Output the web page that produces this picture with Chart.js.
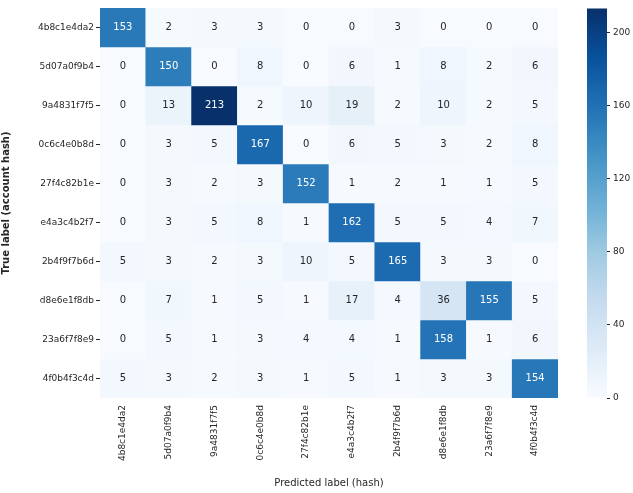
<!DOCTYPE html>
<html>
<head>
<meta charset="utf-8">
<script src="https://cdn.jsdelivr.net/npm/chart.js@4/dist/chart.umd.min.js"></script>
<style>
  html, body { margin: 0; padding: 0; background: #fff; }
  #wrap { position: relative; width: 633px; height: 493px; }
  #heat { position: absolute; left: 0; top: 0; }
  #cbar { position: absolute; left: 560px; top: 0; }
</style>
</head>
<body>
<div id="wrap">
  <canvas id="heat" width="633" height="493"></canvas>
  <canvas id="cbar" width="73" height="493"></canvas>
</div>
<script>
// class labels (same for true and predicted)
const classLabels = [
  "4b8c1e4da2", "5d07a0f9b4", "9a4831f7f5", "0c6c4e0b8d", "27f4c82b1e",
  "e4a3c4b2f7", "2b4f9f7b6d", "d8e6e1f8db", "23a6f7f8e9", "4f0b4f3c4d"
];

// rows = true label, columns = predicted label
const row0 = [153, 2, 3, 3, 0, 0, 3, 0, 0, 0];
const row1 = [0, 150, 0, 8, 0, 6, 1, 8, 2, 6];
const row2 = [0, 13, 213, 2, 10, 19, 2, 10, 2, 5];
const row3 = [0, 3, 5, 167, 0, 6, 5, 3, 2, 8];
const row4 = [0, 3, 2, 3, 152, 1, 2, 1, 1, 5];
const row5 = [0, 3, 5, 8, 1, 162, 5, 5, 4, 7];
const row6 = [5, 3, 2, 3, 10, 5, 165, 3, 3, 0];
const row7 = [0, 7, 1, 5, 1, 17, 4, 36, 155, 5];
const row8 = [0, 5, 1, 3, 4, 4, 1, 158, 1, 6];
const row9 = [5, 3, 2, 3, 1, 5, 1, 3, 3, 154];
const matrix = [row0, row1, row2, row3, row4, row5, row6, row7, row8, row9];

const cbTicks = [0, 40, 80, 120, 160, 200];
const xTitle = "Predicted label (hash)";
const yTitle = "True label (account hash)";

const vmax = Math.max(...matrix.flat());

// matplotlib "Blues"
const blues = ["#f7fbff", "#deebf7", "#c6dbef", "#9ecae1", "#6baed6", "#4292c6", "#2171b5", "#08519c", "#08306b"];
function hex2rgb(h) {
  return [parseInt(h.slice(1, 3), 16), parseInt(h.slice(3, 5), 16), parseInt(h.slice(5, 7), 16)];
}
function bluesColor(t) {
  t = Math.max(0, Math.min(1, t));
  const p = t * (blues.length - 1);
  const i = Math.min(Math.floor(p), blues.length - 2);
  const f = p - i;
  const a = hex2rgb(blues[i]), b = hex2rgb(blues[i + 1]);
  const c = a.map((v, k) => Math.round(v + (b[k] - v) * f));
  return `rgb(${c[0]},${c[1]},${c[2]})`;
}

Chart.defaults.font.family = "'DejaVu Sans', sans-serif";
Chart.defaults.color = "#262626";

const datasets = matrix.map((row, i) => ({
  label: classLabels[i],
  data: row.map(() => [i - 0.5, i + 0.5]),
  values: row,
  backgroundColor: row.map(v => bluesColor(v / vmax)),
  borderWidth: 0,
  barPercentage: 1,
  categoryPercentage: 1,
  grouped: false,
}));

// write the count in each cell
const annotate = {
  id: "annotate",
  afterDatasetsDraw(chart) {
    const ctx = chart.ctx;
    ctx.save();
    ctx.font = "10px 'DejaVu Sans', sans-serif";
    ctx.textAlign = "center";
    ctx.textBaseline = "middle";
    chart.data.datasets.forEach((ds, i) => {
      const meta = chart.getDatasetMeta(i);
      meta.data.forEach((bar, j) => {
        const v = ds.values[j];
        ctx.fillStyle = v / vmax > 0.55 ? "#ffffff" : "#262626";
        ctx.fillText(String(v), bar.x, (bar.y + bar.base) / 2);
      });
    });
    ctx.restore();
  }
};

new Chart(document.getElementById("heat"), {
  type: "bar",
  data: { labels: classLabels, datasets: datasets },
  options: {
    responsive: false,
    animation: false,
    layout: { padding: { top: 8, right: 75, left: 0, bottom: 4 } },
    plugins: { legend: { display: false }, tooltip: { enabled: false } },
    scales: {
      x: {
        grid: { display: false, drawTicks: true, tickLength: 4, tickColor: "#262626" },
        border: { display: false },
        ticks: { font: { size: 9 }, maxRotation: 90, minRotation: 90, autoSkip: false, padding: 3 },
        title: { display: true, text: xTitle, font: { size: 10 }, padding: { top: 4, bottom: 0 } },
        afterFit(scale) { scale.height = 91; }
      },
      y: {
        type: "linear",
        reverse: true,
        min: -0.5,
        max: 9.5,
        grid: { drawOnChartArea: false, drawTicks: true, tickLength: 4, tickColor: "#262626" },
        border: { display: false },
        afterBuildTicks(scale) { scale.ticks = classLabels.map((_, i) => ({ value: i })); },
        ticks: { font: { size: 9 }, autoSkip: false, padding: 2, callback: v => classLabels[v] },
        title: { display: true, text: yTitle, font: { size: 10, weight: "bold" }, padding: { top: 0, bottom: 2 } },
        afterFit(scale) { scale.width = 100; }
      }
    }
  },
  plugins: [annotate]
});

// colour bar
new Chart(document.getElementById("cbar"), {
  type: "bar",
  data: {
    labels: [""],
    datasets: [{
      data: [[0, vmax]],
      borderWidth: 0,
      barPercentage: 1,
      categoryPercentage: 1,
      backgroundColor(ctx) {
        const area = ctx.chart.chartArea;
        if (!area) return blues[4];
        const g = ctx.chart.ctx.createLinearGradient(0, area.bottom, 0, area.top);
        blues.forEach((c, k) => g.addColorStop(k / (blues.length - 1), c));
        return g;
      }
    }]
  },
  options: {
    responsive: false,
    animation: false,
    layout: { padding: { top: 8, left: 27, right: 0, bottom: 95 } },
    plugins: { legend: { display: false }, tooltip: { enabled: false } },
    scales: {
      x: { display: false },
      y: {
        position: "right",
        min: 0,
        max: vmax,
        grid: { drawOnChartArea: false, drawTicks: true, tickLength: 3, tickColor: "#262626" },
        border: { display: false },
        afterBuildTicks(scale) { scale.ticks = cbTicks.map(v => ({ value: v })); },
        ticks: { font: { size: 9 }, padding: 3 },
        afterFit(scale) { scale.width = 26; }
      }
    }
  }
});
</script>
</body>
</html>
